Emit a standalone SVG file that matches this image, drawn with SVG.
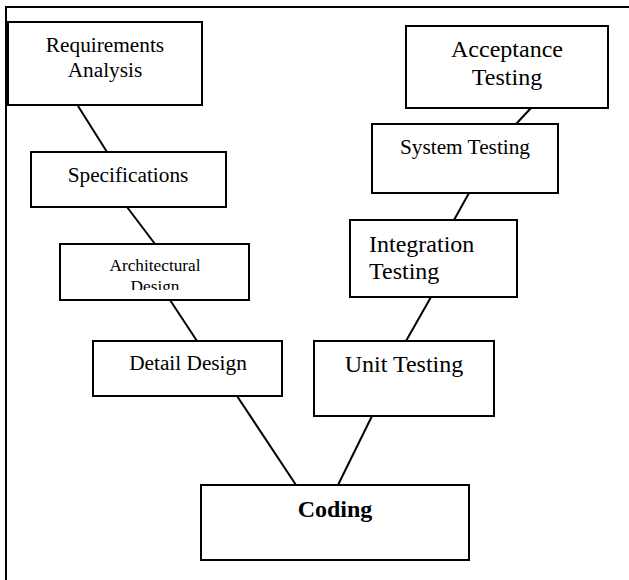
<svg xmlns="http://www.w3.org/2000/svg" width="629" height="580" viewBox="0 0 629 580">
<style>
.box{fill:#fff;stroke:#000;stroke-width:2}
.ln{stroke:#000;stroke-width:2;fill:none}
text{font-family:"Liberation Serif","Times New Roman",serif;fill:#000}
.c{text-anchor:middle}
.f21{font-size:21.3px}
.f24{font-size:24px}
.f17{font-size:17.3px}
</style>
<defs>
<clipPath id="archClip"><rect x="61" y="245" width="187" height="45"/></clipPath>
</defs>
<rect width="629" height="580" fill="#fff"/>
<g id="frame">
<line class="ln" x1="6" y1="7" x2="629" y2="7"/>
<line class="ln" x1="6" y1="6" x2="6" y2="580"/>
</g>
<g id="connectors">
<line class="ln" x1="78" y1="106" x2="107" y2="152"/>
<line class="ln" x1="127" y1="207" x2="155" y2="244"/>
<line class="ln" x1="170" y1="300" x2="197" y2="341"/>
<line class="ln" x1="237" y1="396" x2="296" y2="485"/>
<line class="ln" x1="372" y1="416" x2="338" y2="485"/>
<line class="ln" x1="431" y1="297" x2="406" y2="341"/>
<line class="ln" x1="469" y1="193" x2="454" y2="220"/>
<line class="ln" x1="531" y1="108" x2="516" y2="124"/>
</g>
<g id="requirements">
<rect class="box" x="8" y="22" width="194" height="83"/>
<text class="c f21" x="105" y="52">Requirements</text>
<text class="c f21" x="105" y="77">Analysis</text>
</g>
<g id="specifications">
<rect class="box" x="31" y="152" width="195" height="55"/>
<text class="c f21" x="128" y="182">Specifications</text>
</g>
<g id="architectural">
<rect class="box" x="60" y="244" width="189" height="56"/>
<g clip-path="url(#archClip)">
<text class="c f17" x="155" y="271">Architectural</text>
<text class="c f17" x="155" y="292">Design</text>
</g>
</g>
<g id="detail">
<rect class="box" x="93" y="341" width="189" height="55"/>
<text class="c f21" x="188" y="370">Detail Design</text>
</g>
<g id="coding">
<rect class="box" x="201" y="485" width="268" height="75"/>
<text class="c f24" x="335" y="517" font-weight="bold">Coding</text>
</g>
<g id="unit">
<rect class="box" x="314" y="341" width="180" height="75"/>
<text class="c f24" x="404" y="372">Unit Testing</text>
</g>
<g id="integration">
<rect class="box" x="350" y="220" width="167" height="77"/>
<text class="f24" x="369" y="252">Integration</text>
<text class="f24" x="369" y="279">Testing</text>
</g>
<g id="system">
<rect class="box" x="372" y="124" width="186" height="69"/>
<text class="c f21" x="465" y="154">System Testing</text>
</g>
<g id="acceptance">
<rect class="box" x="406" y="26" width="202" height="82"/>
<text class="c f24" x="507" y="57">Acceptance</text>
<text class="c f24" x="507" y="85">Testing</text>
</g>
</svg>
